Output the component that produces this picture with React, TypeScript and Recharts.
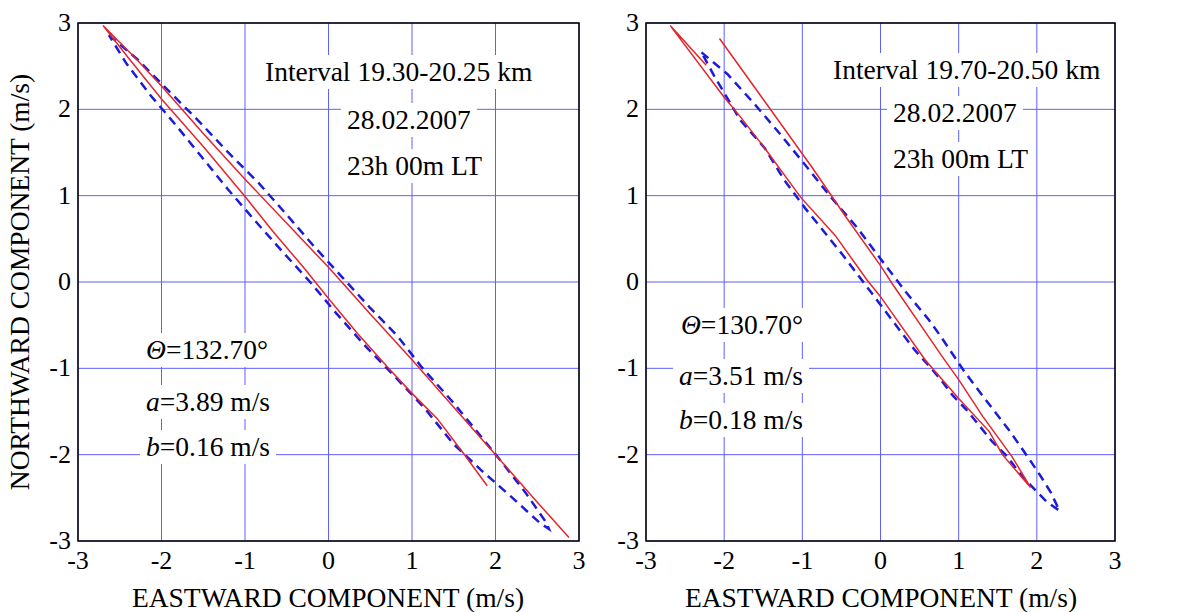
import React from "react";
import { ScatterChart, Scatter, XAxis, YAxis, CartesianGrid, ReferenceArea } from "recharts";

type Pt = { x: number; y: number };
const toPts = (a: number[][]): Pt[] => a.map(([x, y]) => ({ x, y }));

const TICKS = [-3, -2, -1, 0, 1, 2, 3];

// left panel, 19.30-20.25 km
const leftRed = toPts([
  [1.9, -2.36], [1.62, -1.99], [1.3, -1.58], [1.0, -1.29], [0.72, -1.0], [0.35, -0.6],
  [0.0, -0.19], [-0.3, 0.17], [-0.66, 0.58], [-1.0, 0.99], [-1.5, 1.57], [-2.0, 2.12],
  [-2.4, 2.6], [-2.7, 2.97], [-2.3, 2.58], [-2.0, 2.27], [-1.5, 1.72], [-1.0, 1.19],
  [-0.5, 0.68], [0.0, 0.17], [0.5, -0.37], [1.0, -0.9], [1.5, -1.45], [2.0, -2.0],
  [2.5, -2.55], [2.88, -2.96],
]);

const leftBlue = toPts([
  [-2.63, 2.86], [-2.29, 2.58], [-1.92, 2.22], [-1.56, 1.87], [-1.21, 1.51], [-0.84, 1.15],
  [-0.51, 0.79], [-0.18, 0.42], [0.16, 0.06], [0.49, -0.29], [0.83, -0.63], [1.11, -0.98],
  [1.47, -1.37], [1.76, -1.71], [2.07, -2.08], [2.36, -2.44], [2.61, -2.79], [2.64, -2.86],
  [2.53, -2.79], [2.18, -2.48], [1.84, -2.19], [1.49, -1.87], [1.15, -1.46], [0.76, -1.06],
  [0.43, -0.73], [0.1, -0.37], [-0.22, 0.0], [-0.55, 0.35], [-0.88, 0.71], [-1.21, 1.08],
  [-1.52, 1.45], [-1.83, 1.82], [-2.13, 2.16], [-2.42, 2.53], [-2.63, 2.86],
]);

// right panel, 19.70-20.50 km
const rightRed = toPts([
  [-2.06, 2.82], [-1.4, 1.99], [-0.87, 1.32], [-0.44, 0.75], [0.0, 0.19], [0.15, -0.02],
  [0.81, -0.89], [1.0, -1.13], [1.31, -1.56], [1.68, -2.02], [1.92, -2.38], [1.56, -2.0],
  [1.39, -1.73], [1.0, -1.35], [0.57, -0.9], [0.0, -0.17], [-0.17, 0.02], [-0.58, 0.54],
  [-1.02, 0.98], [-1.48, 1.55], [-1.79, 1.91], [-2.0, 2.14], [-2.69, 2.97], [-2.23, 2.51],
]);

const rightBlue = toPts([
  [-2.29, 2.66], [-1.96, 2.41], [-1.62, 2.07], [-1.29, 1.72], [-0.94, 1.33], [-0.65, 1.0],
  [-0.29, 0.62], [0.0, 0.27], [0.31, -0.1], [0.62, -0.44], [0.77, -0.63], [1.06, -1.02],
  [1.35, -1.37], [1.64, -1.71], [1.91, -2.06], [2.05, -2.25], [2.18, -2.44], [2.29, -2.65],
  [2.12, -2.54], [1.99, -2.42], [1.81, -2.25], [1.62, -2.02], [1.43, -1.85], [1.27, -1.67],
  [1.1, -1.48], [0.92, -1.31], [0.77, -1.13], [0.61, -0.96], [0.44, -0.79], [0.13, -0.42],
  [-0.17, -0.06], [-0.48, 0.31], [-0.96, 0.85], [-1.23, 1.18], [-1.48, 1.55], [-1.79, 1.87],
  [-2.13, 2.39], [-2.29, 2.66],
]);

const leftInfo = ["Interval 19.30-20.25 km", "28.02.2007", "23h 00m LT"];
const rightInfo = ["Interval 19.70-20.50 km", "28.02.2007", "23h 00m LT"];
const leftParams = ["132.70°", "3.89 m/s", "0.16 m/s"];
const rightParams = ["130.70°", "3.51 m/s", "0.18 m/s"];

const FONT = "'Liberation Serif', 'Times New Roman', serif";
const RED = "#e3262b";
const BLUE = "#1c1cd8";
const GRID = "#5f5fff";

const NoDot = () => null;

const tickStyle = { fontFamily: FONT, fontSize: 26, fill: "#000" };

// tick text drawn by hand so the serif font and size stick
function XTick(props: any) {
  const { x, y, payload } = props;
  return (
    <text x={x} y={y} dy={28} textAnchor="middle" style={tickStyle}>
      {payload.value}
    </text>
  );
}

function YTick(props: any) {
  const { x, y, payload } = props;
  return (
    <text x={x} y={y} dy={8} textAnchor="end" style={tickStyle}>
      {payload.value}
    </text>
  );
}

interface PanelProps {
  width: number;
  yWidth: number;
  right: number;
  red: Pt[];
  blue: Pt[];
}

function Panel({ width, yWidth, right, red, blue }: PanelProps) {
  return (
    <ScatterChart width={width} height={612} margin={{ top: 23, right, bottom: 0, left: 0 }}
      style={{ fontFamily: FONT }}>
      <CartesianGrid stroke={GRID} strokeWidth={1} />
      <XAxis type="number" dataKey="x" domain={[-3, 3]} ticks={TICKS} interval={0}
        allowDataOverflow tick={<XTick />} tickLine={false} axisLine={false}
        tickSize={0} tickMargin={0} height={71} />
      <YAxis type="number" dataKey="y" domain={[-3, 3]} ticks={TICKS} interval={0}
        allowDataOverflow tick={<YTick />} tickLine={false} axisLine={false}
        tickSize={0} tickMargin={7} width={yWidth} />
      <ReferenceArea x1={-3} x2={3} y1={-3} y2={3} fill="none" stroke="#000"
        strokeWidth={1.5} ifOverflow="visible" />
      <Scatter data={blue} shape={NoDot} isAnimationActive={false}
        line={{ stroke: BLUE, strokeWidth: 2.5, strokeDasharray: "9 6" }} />
      <Scatter data={red} shape={NoDot} isAnimationActive={false}
        line={{ stroke: RED, strokeWidth: 1.5 }} />
    </ScatterChart>
  );
}

function Note({ x, cy, alignRight, children }: { x: number; cy: number; alignRight?: boolean; children: React.ReactNode }) {
  const pos = alignRight ? { right: 1177 - x - 6 } : { left: x - 6 };
  return (
    <div style={{
      position: "absolute", ...pos, top: cy - 17, height: 34, lineHeight: "34px",
      padding: "0 6px", background: "#fff", fontSize: 27.5, fontFamily: FONT,
      whiteSpace: "nowrap", color: "#000",
    }}>{children}</div>
  );
}

function Params({ vals, x, cys, alignRight }: { vals: string[]; x: number; cys: number[]; alignRight?: boolean }) {
  return (
    <>
      <Note x={x} cy={cys[0]} alignRight={alignRight}><i>Θ</i>={vals[0]}</Note>
      <Note x={x} cy={cys[1]} alignRight={alignRight}><i>a</i>={vals[1]}</Note>
      <Note x={x} cy={cys[2]} alignRight={alignRight}><i>b</i>={vals[2]}</Note>
    </>
  );
}

const title = { position: "absolute" as const, fontSize: 27.5, fontFamily: FONT, whiteSpace: "nowrap" as const, color: "#000" };

export default function App() {
  return (
    <div style={{ position: "absolute", left: 0, top: 0, width: 1177, height: 612, background: "#fff", overflow: "hidden", fontFamily: FONT }}>
      <div style={{ position: "absolute", left: 0, top: 0 }}>
        <Panel width={590} yWidth={78} right={11} red={leftRed} blue={leftBlue} />
      </div>
      <div style={{ position: "absolute", left: 590, top: 0 }}>
        <Panel width={587} yWidth={56} right={62} red={rightRed} blue={rightBlue} />
      </div>

      <Note x={265} cy={72}>{leftInfo[0]}</Note>
      <Note x={347} cy={120}>{leftInfo[1]}</Note>
      <Note x={347} cy={166}>{leftInfo[2]}</Note>
      <Params vals={leftParams} x={146} cys={[350, 402, 447]} />

      <Note x={833} cy={70}>{rightInfo[0]}</Note>
      <Note x={893} cy={113}>{rightInfo[1]}</Note>
      <Note x={893} cy={159}>{rightInfo[2]}</Note>
      <Params vals={rightParams} x={803} cys={[325, 376, 420]} alignRight />

      <div style={{ ...title, left: 20, top: 282, transform: "translate(-50%, -50%) rotate(-90deg)" }}>
        NORTHWARD COMPONENT (m/s)
      </div>
      <div style={{ ...title, left: 328, top: 598, transform: "translate(-50%, -50%)" }}>
        EASTWARD COMPONENT (m/s)
      </div>
      <div style={{ ...title, left: 881, top: 598, transform: "translate(-50%, -50%)" }}>
        EASTWARD COMPONENT (m/s)
      </div>
    </div>
  );
}
